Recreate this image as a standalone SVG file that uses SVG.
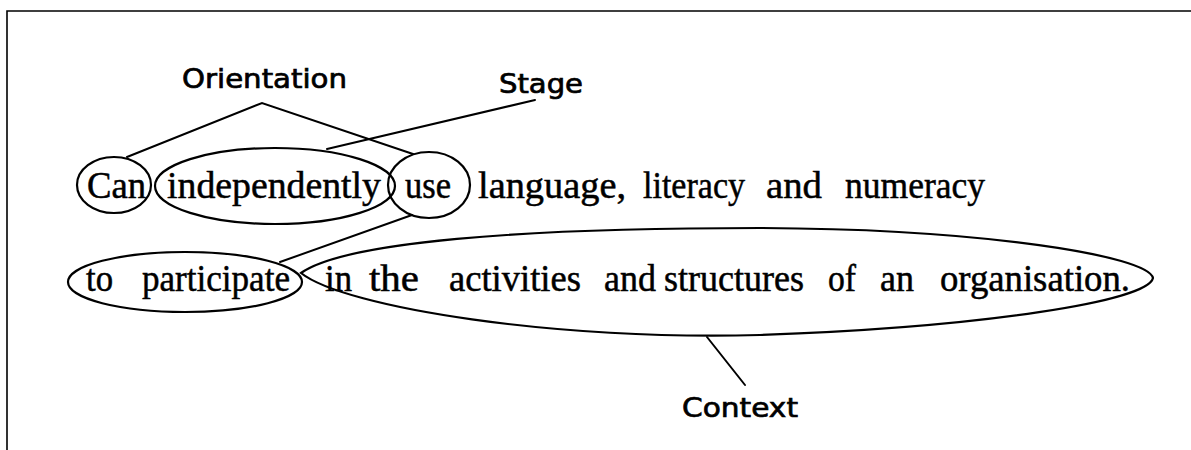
<svg xmlns="http://www.w3.org/2000/svg" width="1191" height="450" viewBox="0 0 1191 450">
  <style>
    .frame { fill: none; stroke: #000; stroke-width: 1.6; }
    .loop { fill: none; stroke: #000; stroke-width: 2.2; }
    .link { fill: none; stroke: #000; stroke-width: 2; stroke-linecap: round; }
    .word { font-family: "Liberation Serif", "Times New Roman", serif; font-size: 37px; fill: #000; stroke: #000; stroke-width: 0.5; }
    .label { font-family: "DejaVu Sans", "Liberation Sans", sans-serif; font-size: 26px; fill: #000; stroke: #000; stroke-width: 0.7; }
  </style>
  <rect width="1191" height="450" fill="#fff"/>
  <g id="frame">
    <path class="frame" d="M7,450 L7,11 L1191,11"/>
  </g>
  <g id="connectors">
    <path class="link" d="M127,157 L262,103 L413,154"/>
    <path class="link" d="M535,100 L327,149"/>
    <path class="link" d="M412,215 L280,262"/>
    <path class="link" d="M707,337 L745,385"/>
  </g>
  <g id="node-orientation">
    <text class="label" x="182" y="88" textLength="165" lengthAdjust="spacingAndGlyphs">Orientation</text>
  </g>
  <g id="node-stage">
    <text class="label" x="499" y="93" textLength="84" lengthAdjust="spacingAndGlyphs">Stage</text>
  </g>
  <g id="node-context">
    <text class="label" x="682" y="417" textLength="116" lengthAdjust="spacingAndGlyphs">Context</text>
  </g>
  <g id="node-can">
    <ellipse class="loop" cx="114" cy="185" rx="37" ry="28"/>
    <text class="word" x="87" y="198" textLength="59" lengthAdjust="spacingAndGlyphs">Can</text>
  </g>
  <g id="node-independently">
    <ellipse class="loop" cx="275" cy="186" rx="120" ry="38"/>
    <text class="word" x="167" y="198" textLength="214" lengthAdjust="spacingAndGlyphs">independently</text>
  </g>
  <g id="node-use">
    <ellipse class="loop" cx="429" cy="185" rx="41" ry="33"/>
    <text class="word" x="405" y="198" textLength="46" lengthAdjust="spacingAndGlyphs">use</text>
  </g>
  <g id="line1-rest">
    <text class="word" x="478" y="198" textLength="148" lengthAdjust="spacingAndGlyphs">language,</text>
    <text class="word" x="643" y="198" textLength="102" lengthAdjust="spacingAndGlyphs">literacy</text>
    <text class="word" x="766" y="198" textLength="56" lengthAdjust="spacingAndGlyphs">and</text>
    <text class="word" x="845" y="198" textLength="140" lengthAdjust="spacingAndGlyphs">numeracy</text>
  </g>
  <g id="node-participate">
    <ellipse class="loop" cx="185" cy="282" rx="117" ry="30"/>
    <text class="word" x="86" y="291" textLength="27" lengthAdjust="spacingAndGlyphs">to</text>
    <text class="word" x="142" y="291" textLength="148" lengthAdjust="spacingAndGlyphs">participate</text>
  </g>
  <g id="node-context-phrase">
    <path class="loop" d="M301,273 C345,242 520,228 760,228 C985,229 1148,256 1153,278 C1148,301 985,327 760,335 C560,341 345,308 301,273 Z"/>
    <text class="word" x="325" y="291" textLength="27" lengthAdjust="spacingAndGlyphs">in</text>
    <text class="word" x="369" y="291" textLength="50" lengthAdjust="spacingAndGlyphs">the</text>
    <text class="word" x="449" y="291" textLength="132" lengthAdjust="spacingAndGlyphs">activities</text>
    <text class="word" x="604" y="291" textLength="52" lengthAdjust="spacingAndGlyphs">and</text>
    <text class="word" x="664" y="291" textLength="140" lengthAdjust="spacingAndGlyphs">structures</text>
    <text class="word" x="828" y="291" textLength="28" lengthAdjust="spacingAndGlyphs">of</text>
    <text class="word" x="880" y="291" textLength="34" lengthAdjust="spacingAndGlyphs">an</text>
    <text class="word" x="940" y="291" textLength="190" lengthAdjust="spacingAndGlyphs">organisation.</text>
  </g>
</svg>
